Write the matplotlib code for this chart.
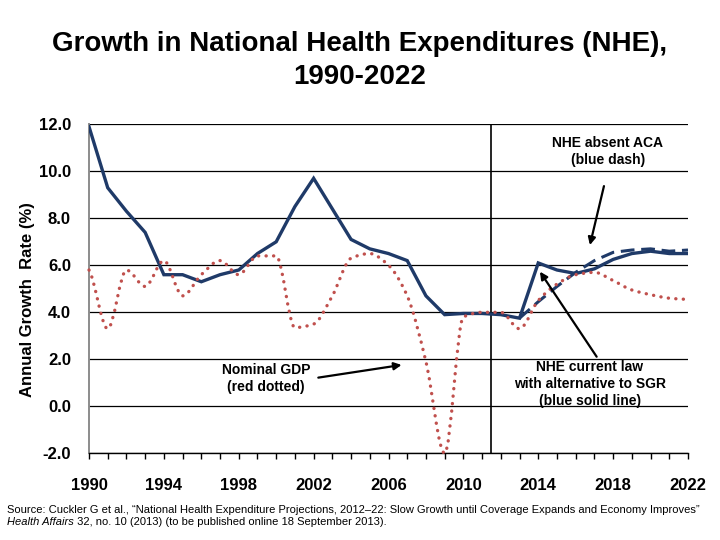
import numpy as np
import matplotlib
matplotlib.use("Agg")
import matplotlib.pyplot as plt
from matplotlib.path import Path
from matplotlib.patches import PathPatch

plt.rcParams['font.family'] = ['Liberation Sans', 'DejaVu Sans']
plt.rcParams['axes.unicode_minus'] = False

# ---------------- data ----------------
years = list(range(1990, 2023))
nhe_current = [11.9, 9.3, 8.3, 7.4, 5.6, 5.6, 5.3, 5.6, 5.8, 6.5, 7.0,
               8.5, 9.7, 8.4, 7.1, 6.7, 6.5, 6.2, 4.7, 3.9, 3.95, 3.95,
               3.9, 3.75, 6.1, 5.8, 5.65, 5.85, 6.25, 6.5, 6.6, 6.5, 6.5]
gdp = [5.8, 3.3, 5.8, 5.1, 6.2, 4.7, 5.6, 6.2, 5.6, 6.4, 6.4,
       3.35, 3.5, 4.7, 6.3, 6.5, 6.0, 4.7, 1.9, -2.0, 3.8, 4.0,
       4.0, 3.3, 4.5, 5.2, 5.6, 5.7, 5.35, 4.95, 4.75, 4.6, 4.55]
aca_years = list(range(2013, 2023))
nhe_absent_aca = [3.75, 4.45, 5.1, 5.7, 6.2, 6.55, 6.65, 6.7, 6.6, 6.65]
xtick_years = [1990, 1994, 1998, 2002, 2006, 2010, 2014, 2018, 2022]
yticks = [-2.0, 0.0, 2.0, 4.0, 6.0, 8.0, 10.0, 12.0]
projection_start = 2011.5

NAVY = '#1F3A68'
RED = '#C0504D'

fig = plt.figure(figsize=(7.2, 5.4), dpi=100)
ax = fig.add_axes([89/720, 1-453.3/540, (688-89)/720, (453.3-124.3)/540])

ax.set_xlim(1990, 2022)
ax.set_ylim(-2, 12)

# grid
for yv in yticks:
    ax.axhline(yv, color='black', lw=0.9, zorder=1)

# projection divider
ax.axvline(projection_start, color='black', lw=1.2, zorder=2)

# NHE solid
ax.plot(years, nhe_current, color=NAVY, lw=2.4, zorder=4, solid_joinstyle='miter')
# NHE absent ACA dashed
ax.plot(aca_years, nhe_absent_aca, color=NAVY, lw=2.2, ls=(0, (4.5, 2.2)), zorder=3)

# GDP smoothed dotted line: cubic Bezier path with shape-preserving tangents
x = np.array(years, dtype=float)
y = np.array(gdp, dtype=float)
n = len(x)
h = np.diff(x)
d = np.diff(y) / h
m = np.zeros(n)
for i in range(1, n - 1):
    if d[i-1] * d[i] <= 0:
        m[i] = 0.0
    else:
        w1 = 2 * h[i] + h[i-1]
        w2 = h[i] + 2 * h[i-1]
        m[i] = (w1 + w2) / (w1 / d[i-1] + w2 / d[i])
m[0] = d[0] * 0.5
m[-1] = d[-1] * 0.5
verts = [(x[0], y[0])]
codes = [Path.MOVETO]
for i in range(n - 1):
    c1 = (x[i] + h[i] / 3, y[i] + m[i] * h[i] / 3)
    c2 = (x[i+1] - h[i] / 3, y[i+1] - m[i+1] * h[i] / 3)
    verts += [c1, c2, (x[i+1], y[i+1])]
    codes += [Path.CURVE4, Path.CURVE4, Path.CURVE4]
patch = PathPatch(Path(verts, codes), fill=False, edgecolor=RED, lw=2.4,
                  ls=(0, (0.05, 2.2)), capstyle='round', zorder=5, clip_on=False)
ax.add_patch(patch)

# axes styling
for s in ['top', 'right']:
    ax.spines[s].set_visible(False)
ax.spines['left'].set_color('#8C8C8C')
ax.spines['left'].set_linewidth(1.4)
ax.spines['bottom'].set_color('black')
ax.spines['bottom'].set_linewidth(1.0)

ax.set_yticks(yticks)
ax.set_yticklabels([f"{v:.1f}" for v in yticks], fontsize=12, fontweight='bold')
ax.tick_params(axis='y', length=0, pad=13)

ax.set_xticks(xtick_years)
ax.set_xticklabels([str(v) for v in xtick_years], fontsize=12, fontweight='bold')
ax.set_xticks(years, minor=True)
ax.tick_params(axis='x', which='both', direction='out', length=4.5, width=1.0,
               color='black', pad=13)

ax.set_ylabel('Annual Growth  Rate (%)', fontsize=12, fontweight='bold')
ax.yaxis.set_label_coords(-0.090, 0.466)

# annotations
ax.annotate('', xy=(2016.76, 6.86), xytext=(2017.51, 9.37),
            arrowprops=dict(arrowstyle='-|>', lw=1.6, color='black', mutation_scale=11,
                            shrinkA=0, shrinkB=0), zorder=6)
ax.text(2017.72, 10.84, 'NHE absent ACA\n(blue dash)', ha='center', va='center',
        fontsize=10, fontweight='bold', linespacing=1.25)

ax.annotate('', xy=(2014.09, 5.73), xytext=(2017.12, 2.11),
            arrowprops=dict(arrowstyle='-|>', lw=1.6, color='black', mutation_scale=11,
                            shrinkA=0, shrinkB=0), zorder=6)
ax.text(2016.76, 0.95, 'NHE current law\nwith alternative to SGR\n(blue solid line)',
        ha='center', va='center', fontsize=10, fontweight='bold', linespacing=1.25)

ax.annotate('', xy=(2006.7, 1.76), xytext=(2002.25, 1.22),
            arrowprops=dict(arrowstyle='-|>', lw=1.6, color='black', mutation_scale=11,
                            shrinkA=0, shrinkB=0), zorder=6)
ax.text(1999.46, 1.19, 'Nominal GDP\n(red dotted)', ha='center', va='center',
        fontsize=10, fontweight='bold', linespacing=1.25)

# title
fig.text(0.5, 1-51/540, 'Growth in National Health Expenditures (NHE),',
         ha='center', va='baseline', fontsize=20, fontweight='bold')
fig.text(0.5, 1-84/540, '1990-2022', ha='center', va='baseline',
         fontsize=20, fontweight='bold')

# source
src1 = ('Source: Cuckler G et al., \u201cNational Health Expenditure Projections, '
        '2012\u201322: Slow Growth until Coverage Expands and Economy Improves\u201d')
fig.text(7.3/720, 1-513.3/540, src1, ha='left', va='baseline', fontsize=8.05)
t1 = fig.text(7.3/720, 1-525/540, 'Health Affairs', ha='left', va='baseline',
              fontsize=8.05, style='italic')
fig.add_artist(plt.Annotation(' 32, no. 10 (2013) (to be published online 18 September 2013).',
                              xy=(1, 0), xycoords=t1, ha='left', va='bottom', fontsize=8.05))

fig.savefig('out.png', dpi=100)
